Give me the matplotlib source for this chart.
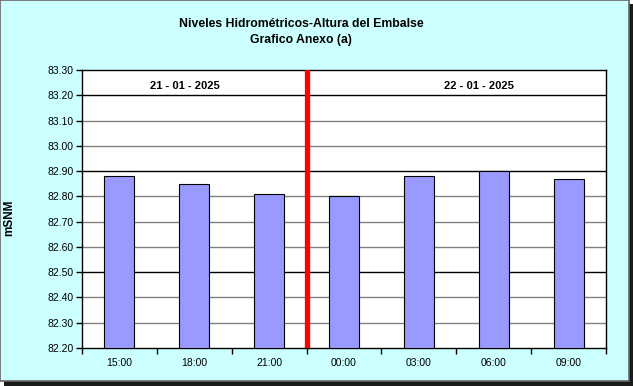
import numpy as np
import matplotlib
matplotlib.use("Agg")
import matplotlib.pyplot as plt
from matplotlib.patches import Rectangle

plt.rcParams['font.family'] = ['Liberation Sans', 'DejaVu Sans']

horas = ["15:00", "18:00", "21:00", "00:00", "03:00", "06:00", "09:00"]
niveles = [82.88, 82.85, 82.81, 82.80, 82.88, 82.90, 82.87]
fechas = ["21 - 01 - 2025", "22 - 01 - 2025"]
fecha_x = [0.88, 4.8]
corte_dia = 2.5
y_min, y_max = 82.20, 83.30

fig = plt.figure(figsize=(6.33, 3.86), dpi=100)
fig.patch.set_facecolor('white')

# frame with shadow, like the excel chart
W, H = 633, 386
fig.patches.append(Rectangle((4 / W, 0), 629 / W, 382 / H, transform=fig.transFigure,
                             facecolor='#1a1a1a', edgecolor='none', zorder=-2))
fig.patches.append(Rectangle((0, 5 / H), 629 / W, 381 / H, transform=fig.transFigure,
                             facecolor='#CCFFFF', edgecolor='#666666', linewidth=1.2, zorder=-1))

ax = fig.add_axes([82 / W, (386 - 348) / H, 524 / W, 278 / H])
ax.set_facecolor('white')

x = np.arange(len(horas))
alturas = [v - y_min for v in niveles]
ax.bar(x, alturas, width=0.4, bottom=y_min, color='#9999FF', edgecolor='black',
       linewidth=0.8, zorder=3)

ticks = np.round(np.arange(y_min, y_max + 0.001, 0.10), 2)
for t in ticks[1:-1]:
    c = 'black' if t in (83.20, 82.90, 82.50) else '#808080'
    ax.axhline(t, color=c, linewidth=1.0, zorder=1)

ax.axvline(corte_dia, color='#FF0000', linewidth=3.8, zorder=4)

ax.set_xlim(-0.5, len(horas) - 0.5)
ax.set_ylim(y_min, y_max)
ax.set_yticks(ticks)
ax.set_yticklabels([f"{t:.2f}" for t in ticks], fontsize=7.5)
ax.set_xticks(x)
ax.set_xticklabels(horas, fontsize=7.5)
ax.set_xticks(np.arange(-0.5, len(horas)), minor=True)
ax.tick_params(axis='x', which='major', length=0, pad=7)
ax.tick_params(axis='x', which='minor', length=4, width=1, direction='out')
ax.tick_params(axis='y', length=4, width=1, direction='out', pad=2)
for s in ax.spines.values():
    s.set_linewidth(1.0)
    s.set_color('black')

for fx, f in zip(fecha_x, fechas):
    ax.text(fx, 83.235, f, ha='center', va='center', fontsize=8, fontweight='bold', zorder=5)

ax.set_ylabel("mSNM", fontsize=8.5, fontweight='bold')
ax.yaxis.set_label_coords(-0.127, 0.47)

fig.text(301 / W, 1 - 24 / H, "Niveles Hidrométricos-Altura del Embalse", ha='center', va='center',
         fontsize=8.8, fontweight='bold')
fig.text(301 / W, 1 - 40 / H, "Grafico Anexo (a)", ha='center', va='center',
         fontsize=8.8, fontweight='bold')

fig.savefig("out.png", dpi=100, facecolor=fig.get_facecolor())
